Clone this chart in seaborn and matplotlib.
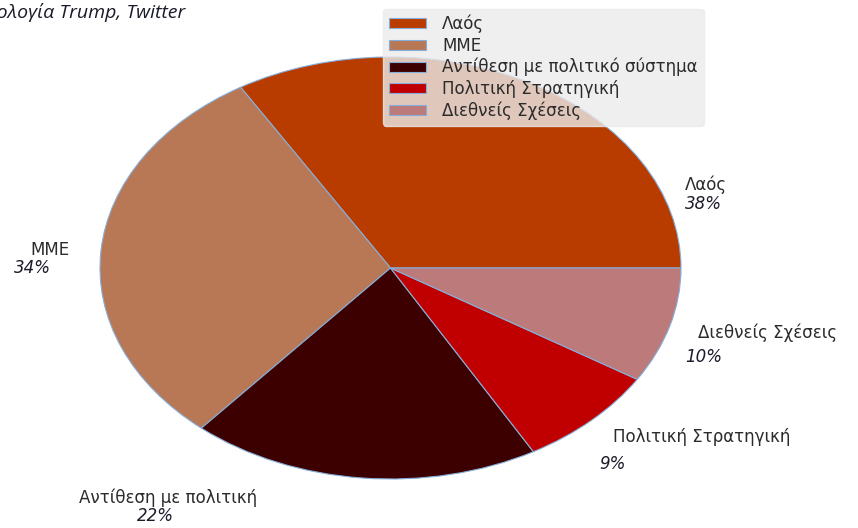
import matplotlib
matplotlib.use("Agg")
import matplotlib.pyplot as plt
import seaborn as sns

sns.set_theme(style="white")
plt.rcParams["font.family"] = ["DejaVu Sans"]

# Topic shares of Trump's tweets
categories = ["Λαός", "ΜΜΕ", "Αντίθεση με πολιτικό σύστημα",
              "Πολιτική Στρατηγική", "Διεθνείς Σχέσεις"]
slice_names = ["Λαός", "ΜΜΕ", "Αντίθεση με πολιτική",
               "Πολιτική Στρατηγική", "Διεθνείς Σχέσεις"]
shares = [38, 34, 22, 9, 10]
colors = ["#B83C00", "#B87856", "#3D0000", "#C00000", "#BC7A7A"]

# Label anchors (name, percentage) in pie data units
name_pos = [(1.014, 0.393, "left"), (-1.172, 0.085, "center"),
            (-0.766, -1.09, "center"), (0.766, -0.801, "left"),
            (1.059, -0.308, "left")]
pct_pos = [(1.014, 0.303, "left"), (-1.231, 0.0, "center"),
           (-0.81, -1.175, "center"), (0.717, -0.929, "left"),
           (1.014, -0.422, "left")]

fig = plt.figure(figsize=(8.58, 5.28), dpi=100)
fig.patch.set_facecolor("white")
ax = fig.add_axes([100 / 858, 49 / 528, 581 / 858, 422 / 528])

wedges, _ = ax.pie(shares, colors=colors, startangle=0, counterclock=True,
                   wedgeprops=dict(edgecolor="#86AEDA", linewidth=0.8))
ax.set_aspect("auto")
ax.set_xlim(-1, 1)
ax.set_ylim(-1, 1)
ax.axis("off")

for name, val, (nx, ny, nha), (px, py, pha) in zip(slice_names, shares, name_pos, pct_pos):
    ax.text(nx, ny, name, ha=nha, va="center", fontsize=12,
            color="#2b2b2b", clip_on=False)
    ax.text(px, py, f"{val}%", ha=pha, va="center", fontsize=12,
            style="italic", color="#1c1c2a", clip_on=False)

leg = fig.legend(wedges, categories, loc="upper left",
                 bbox_to_anchor=(383 / 858, 1 - 9 / 528),
                 bbox_transform=fig.transFigure, borderaxespad=0,
                 fontsize=12, handlelength=2.2, handleheight=0.55,
                 labelspacing=0.2, borderpad=0.35, handletextpad=1.0,
                 frameon=True, fancybox=True, framealpha=0.8,
                 facecolor="#EBEBEB", edgecolor="#EBEBEB")
for t in leg.get_texts():
    t.set_color("#2b2b2b")

fig.text(185 / 858, 1 - 12 / 528, "Θεματολογία Trump, Twitter",
         ha="right", va="center", fontsize=14, style="italic",
         family=["Open Sans", "DejaVu Sans"], color="#1a1a2a")

fig.savefig("out.png", dpi=100, facecolor="white")
